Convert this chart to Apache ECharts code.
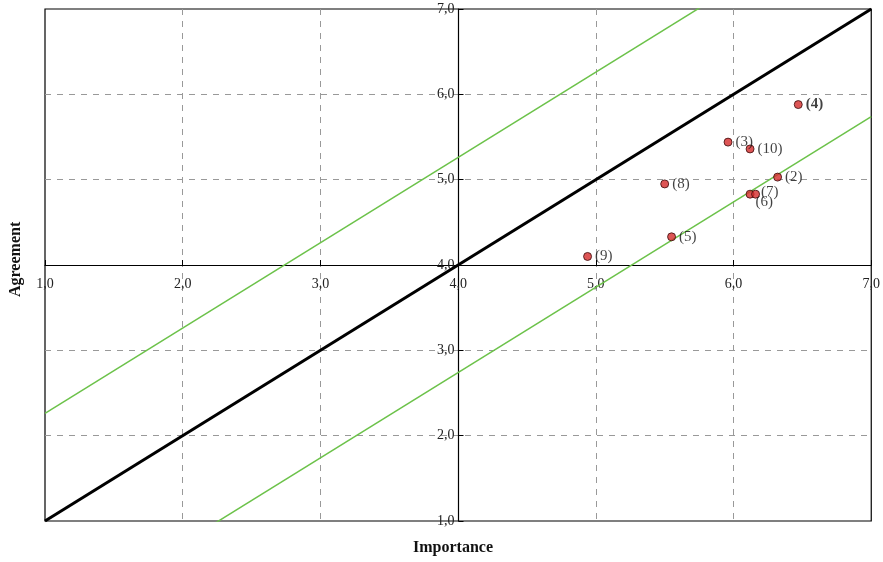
<!DOCTYPE html>
<html>
<head>
<meta charset="utf-8">
<script src="https://cdn.jsdelivr.net/npm/echarts@6/dist/echarts.min.js"></script>
<style>
  html, body { margin: 0; padding: 0; background: #fff; }
  #chart { width: 883px; height: 562px; }
</style>
</head>
<body>
<div id="chart"></div>
<script>
// item numbers and their (importance, agreement) means
const itemLabels = ['(2)', '(3)', '(4)', '(5)', '(6)', '(7)', '(8)', '(9)', '(10)'];
const importance = [6.32, 5.96, 6.47, 5.55, 6.12, 6.16, 5.50, 4.94, 6.12];
const agreement  = [5.03, 5.44, 5.88, 4.33, 4.83, 4.83, 4.95, 4.10, 5.36];

// reference lines y = x + offset
const diagonalOffset = 0;
const bandOffsets = [1.26, -1.26];

const axisMin = 1;
const axisMax = 7;
const crossAt = 4;

const font = 'Liberation Serif, DejaVu Serif, serif';
const fmt = v => v.toFixed(1).replace('.', ',');

const gridLeft = 45, gridRight = 11, gridTop = 9, gridBottom = 41;
const gridW = 883 - gridLeft - gridRight;
const gridH = 562 - gridTop - gridBottom;

const lineData = off => [[axisMin, axisMin + off], [axisMax, axisMax + off]];

const points = importance.map((x, i) => {
  const p = { value: [x, agreement[i]], name: itemLabels[i] };
  if (itemLabels[i] === '(4)') p.label = { fontWeight: 'bold' };
  if (itemLabels[i] === '(6)') p.label = { position: 'right', offset: [-2, 8] };
  if (itemLabels[i] === '(7)') p.label = { offset: [-2, -2] };
  return p;
});

const split = { show: true, showMinLine: false, showMaxLine: false,
  lineStyle: { color: '#999', type: [6, 6], width: 1 } };

const myChart = echarts.init(document.getElementById('chart'));

myChart.setOption({
  animation: false,
  grid: {
    left: gridLeft, right: gridRight, top: gridTop, bottom: gridBottom,
    show: true, borderColor: '#000', borderWidth: 1.2
  },
  xAxis: {
    type: 'value',
    min: axisMin, max: axisMax, interval: 1,
    position: 'bottom',
    offset: -gridH * (crossAt - axisMin) / (axisMax - axisMin),
    axisLine: { onZero: false, lineStyle: { color: '#000', width: 1.2 } },
    axisTick: { show: true, inside: true, length: 5, lineStyle: { color: '#000' } },
    axisLabel: {
      formatter: fmt, color: '#222', fontFamily: font, fontSize: 14, margin: 12,
      showMinLabel: true, showMaxLabel: true
    },
    splitLine: split
  },
  yAxis: {
    type: 'value',
    min: axisMin, max: axisMax, interval: 1,
    position: 'left',
    offset: -gridW * (crossAt - axisMin) / (axisMax - axisMin),
    axisLine: { onZero: false, lineStyle: { color: '#000', width: 1.2 } },
    axisTick: { show: true, inside: true, length: 5, lineStyle: { color: '#000' } },
    axisLabel: {
      formatter: fmt, color: '#222', fontFamily: font, fontSize: 14, margin: 4,
      showMinLabel: true, showMaxLabel: true
    },
    splitLine: split
  },
  graphic: [
    {
      type: 'text', left: 413, top: 540,
      style: { text: 'Importance', font: 'bold 16px ' + font, fill: '#111' }
    },
    {
      type: 'text', x: 8, y: 297, rotation: Math.PI / 2,
      style: { text: 'Agreement', font: 'bold 16px ' + font, fill: '#111' }
    }
  ],
  series: [
    ...bandOffsets.map(off => ({
      type: 'line',
      data: lineData(off),
      clip: true,
      symbol: 'none',
      lineStyle: { color: '#6cc24a', width: 1.5 },
      silent: true,
      z: 2
    })),
    {
      type: 'line',
      data: lineData(diagonalOffset),
      clip: true,
      symbol: 'none',
      lineStyle: { color: '#000', width: 3 },
      silent: true,
      z: 3
    },
    {
      type: 'scatter',
      data: points,
      symbolSize: 8,
      itemStyle: { color: '#d42a2a', borderColor: '#3a0a0a', borderWidth: 1 },
      label: {
        show: true, position: 'right', distance: 3,
        formatter: p => p.name,
        fontFamily: font, fontSize: 15, color: '#111'
      },
      z: 5
    }
  ]
});
</script>
</body>
</html>
